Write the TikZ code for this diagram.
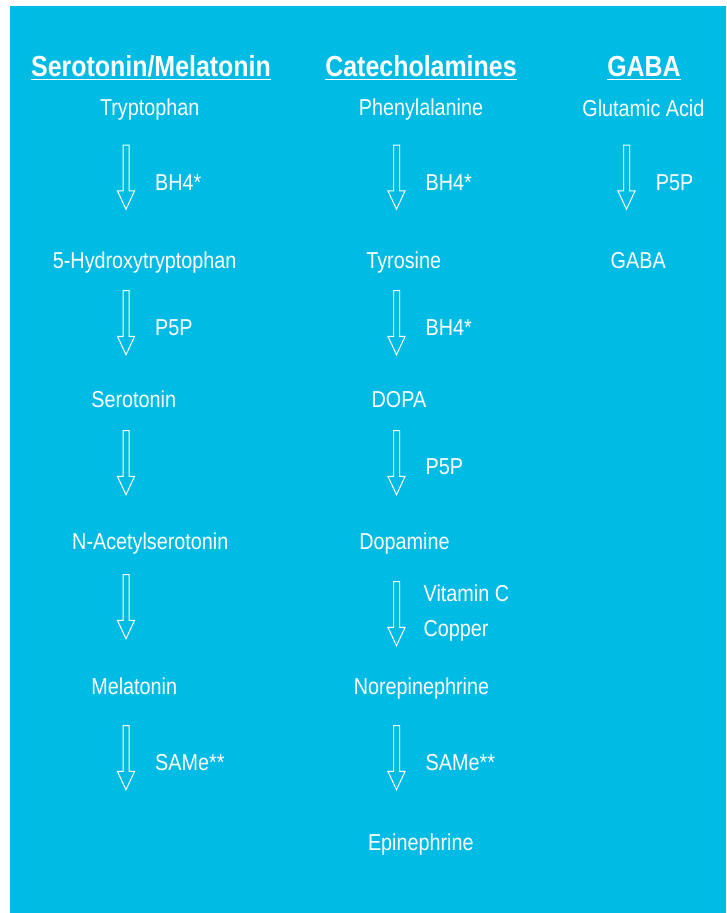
\documentclass[tikz,border=0pt]{standalone}
\usepackage{fontspec}
\setmainfont{Liberation Sans}[FakeStretch=0.86]
\usetikzlibrary{positioning, shapes.arrows}
\definecolor{pathblue}{RGB}{0,188,228}
\tikzset{
    chem/.style={text=white, anchor=base, inner sep=0pt, font=\fontsize{23}{27}\selectfont}, % substances
    cofactor/.style={chem, anchor=base west}, % labels beside the arrows
    heading/.style={chem, font=\fontsize{29}{34}\selectfont\bfseries}, % column titles
    flow/.style={single arrow, draw=white, line width=1pt, inner sep=2.5pt,
        single arrow head extend=5.5pt, single arrow tip angle=50,
        minimum height=64pt, shape border rotate=270, yshift=3pt}, % hollow block arrows
    uline/.style={draw=white, line width=1.3pt},
}

\begin{document}
\begin{tikzpicture}[x=1pt, y=-1pt]
    \useasboundingbox (0,0) rectangle (726,913);
    \fill[pathblue] (10,6) rectangle (726,913);

    % Titles
    \node[heading] (hSer) at (151,76) {Serotonin/Melatonin};
    \node[heading] (hCat) at (421,76) {Catecholamines};
    \node[heading] (hGaba) at (644,76) {GABA};
    \draw[uline] ([yshift=-3.5pt]hSer.base west) -- ([yshift=-3.5pt]hSer.base east);
    \draw[uline] ([yshift=-3.5pt]hCat.base west) -- ([yshift=-3.5pt]hCat.base east);
    \draw[uline] ([yshift=-3.5pt]hGaba.base west) -- ([yshift=-3.5pt]hGaba.base east);

    % Serotonin/Melatonin
    \node[chem] (trp) at (149.7,115.5) {Tryptophan};
    \node[chem] (htp) at (144.7,268) {5-Hydroxytryptophan};
    \node[chem] (ser) at (133.8,407) {Serotonin};
    \node[chem] (nas) at (150.3,549) {N-Acetylserotonin};
    \node[chem] (mel) at (134.2,694.5) {Melatonin};
    \node[flow] (s1) at (126,177) {};
    \node[flow] (s2) at (126,322.5) {};
    \node[flow] (s3) at (126,462.5) {};
    \node[flow] (s4) at (126,606.5) {};
    \node[flow] (s5) at (126,757.5) {};
    \node[cofactor] (s1l) at (155,190.5) {BH4*};
    \node[cofactor] (s2l) at (155,335) {P5P};
    \node[cofactor] (s5l) at (155,770) {SAMe**};

    % Catecholamines
    \node[chem] (phe) at (421,115.5) {Phenylalanine};
    \node[chem] (tyr) at (403.7,268) {Tyrosine};
    \node[chem] (dopa) at (399,407) {DOPA};
    \node[chem] (da) at (404.5,549) {Dopamine};
    \node[chem] (ne) at (421.5,694.5) {Norepinephrine};
    \node[chem] (epi) at (420.8,850) {Epinephrine};
    \node[flow] (c1) at (396.5,177) {};
    \node[flow] (c2) at (396.5,322.5) {};
    \node[flow] (c3) at (396.5,462.5) {};
    \node[flow] (c4) at (396.5,613.5) {};
    \node[flow] (c5) at (396.5,757.5) {};
    \node[cofactor] (c1l) at (425.5,190.5) {BH4*};
    \node[cofactor] (c2l) at (425.5,335) {BH4*};
    \node[cofactor] (c3l) at (425.5,474.5) {P5P};
    \node[cofactor] (c4l) at (423.5,601.7) {Vitamin C};
    \node[cofactor] (c4m) at (423.5,636.7) {Copper};
    \node[cofactor] (c5l) at (425.5,770) {SAMe**};

    % GABA
    \node[chem] (glu) at (643.4,116) {Glutamic Acid};
    \node[chem] (gaba) at (638.2,268) {GABA};
    \node[flow] (g1) at (626.5,177) {};
    \node[cofactor] (g1l) at (655.7,190) {P5P};
\end{tikzpicture}
\end{document}
